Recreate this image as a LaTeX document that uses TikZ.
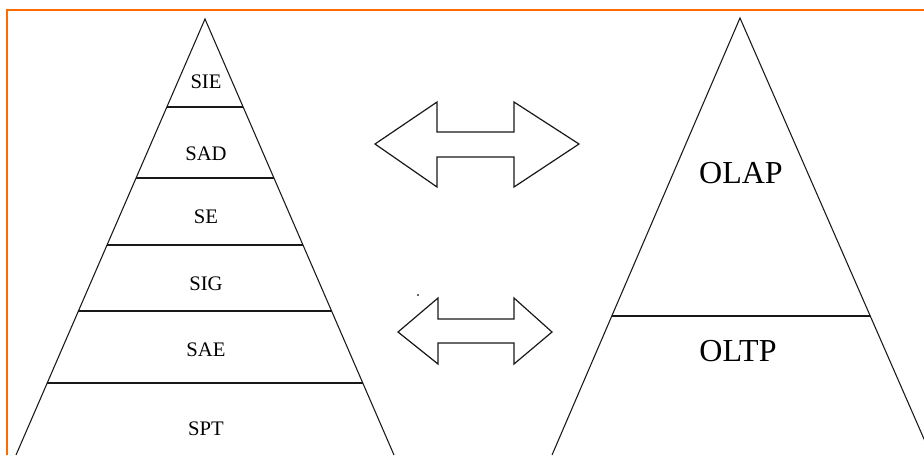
\documentclass[tikz,border=0pt]{standalone}
\usepackage{fontspec}
\setmainfont{Liberation Serif}
\usetikzlibrary{calc}
\definecolor{frameorange}{HTML}{FF6A00}

\begin{document}
\begin{tikzpicture}[x=0.75pt, y=-0.75pt]
        \tikzstyle{side}=[draw=black!90, line width=0.8pt];
        \tikzstyle{band}=[draw=black!90, line width=1pt];
        \tikzstyle{level}=[font=\fontsize{15.5}{18}\selectfont, inner sep=0pt];
        \tikzstyle{system}=[font=\fontsize{24}{28}\selectfont, inner sep=0pt];
        \tikzstyle{swap}=[draw=black!90, line width=0.9pt, fill=white, line join=miter];

        \clip (0,0) rectangle (924,455);
        \fill[white] (0,0) rectangle (924,455);
        \draw[frameorange, line width=1.5pt] (6.5,455) -- (6.5,9.5) -- (924,9.5);

        % left pyramid
        \coordinate (topL) at (205,19);
        \coordinate (baseLl) at (16,455);
        \coordinate (baseLr) at (394,455);
        \draw[side] (baseLl) -- (topL) -- (baseLr);
        \foreach \t in {0.2018,0.3647,0.518,0.670,0.835}
            \draw[band] ($(topL)!\t!(baseLl)$) -- ($(topL)!\t!(baseLr)$);

        \node[level] (sie) at (206,82) {SIE};
        \node[level] (sad) at (206,154) {SAD};
        \node[level] (se) at (206,217) {SE};
        \node[level] (sig) at (206,284) {SIG};
        \node[level] (sae) at (206,350) {SAE};
        \node[level] (spt) at (206,429) {SPT};

        % right pyramid
        \coordinate (topR) at (740,18);
        \coordinate (baseRl) at (552,455);
        \coordinate (baseRr) at (931,455);
        \draw[side] (baseRl) -- (topR) -- (baseRr);
        \draw[band] ($(topR)!0.682!(baseRl)$) -- ($(topR)!0.682!(baseRr)$);

        \node[system] (olap) at (741,173) {OLAP};
        \node[system] (oltp) at (738,351) {OLTP};

        % double arrows
        \draw[swap] (375,144) -- (437,102) -- (437,132) -- (514,132) -- (514,102)
            -- (579,144) -- (514,187) -- (514,157) -- (437,157) -- (437,187) -- cycle;
        \draw[swap] (398,332) -- (438,298) -- (438,319) -- (514,319) -- (514,298)
            -- (552,332) -- (514,364) -- (514,343) -- (438,343) -- (438,364) -- cycle;
        \fill[black!80] (418,295) circle (1.1);
\end{tikzpicture}
\end{document}
